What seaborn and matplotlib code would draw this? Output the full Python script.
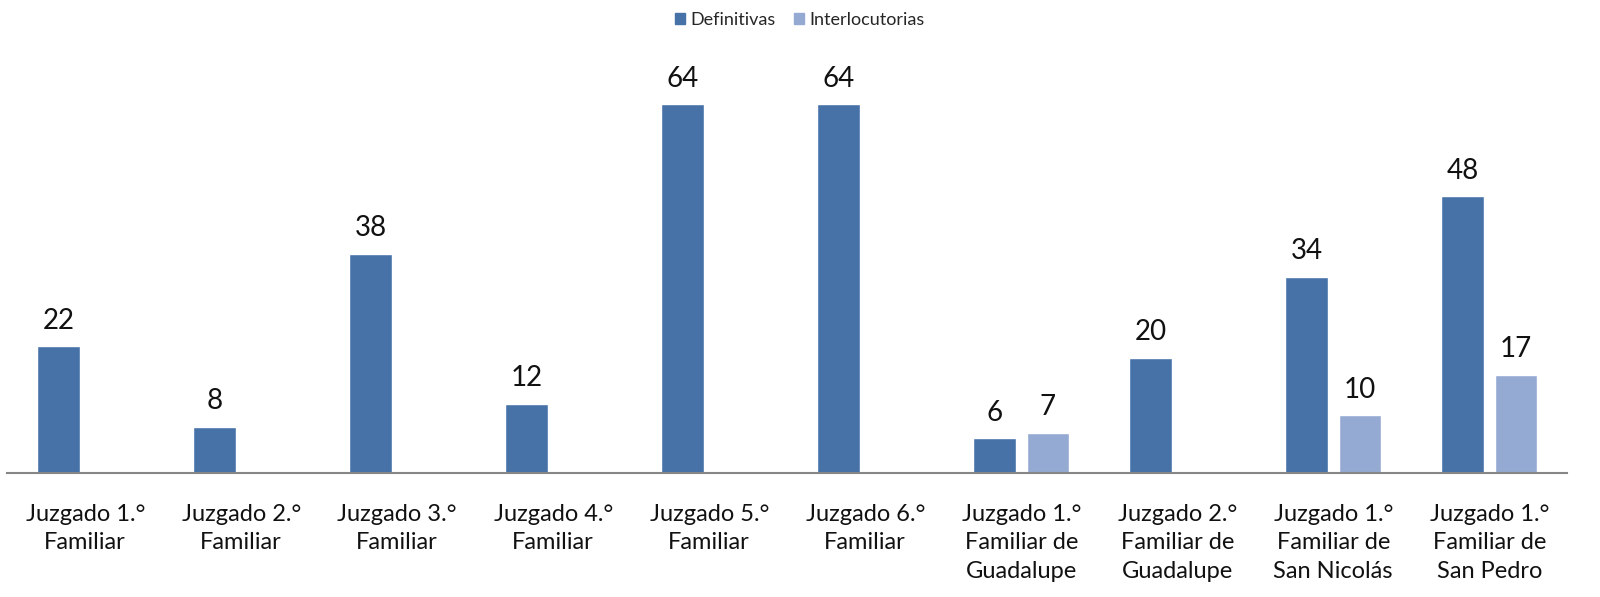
import seaborn as sns
import matplotlib.pyplot as plt
import pandas as pd

categories = [
    "Juzgado 1.°\nFamiliar",
    "Juzgado 2.°\nFamiliar",
    "Juzgado 3.°\nFamiliar",
    "Juzgado 4.°\nFamiliar",
    "Juzgado 5.°\nFamiliar",
    "Juzgado 6.°\nFamiliar",
    "Juzgado 1.°\nFamiliar de\nGuadalupe",
    "Juzgado 2.°\nFamiliar de\nGuadalupe",
    "Juzgado 1.°\nFamiliar de\nSan Nicolás",
    "Juzgado 1.°\nFamiliar de\nSan Pedro",
]
definitivas = [22, 8, 38, 12, 64, 64, 6, 20, 34, 48]
interlocutorias = [None, None, None, None, None, None, 7, None, 10, 17]
series = ["Definitivas", "Interlocutorias"]
colors = ["#4672A8", "#95AAD2"]

# missing values drawn as zero-height bars (no label)
df = pd.DataFrame({
    "Juzgado": categories * 2,
    "Tipo": [series[0]] * len(categories) + [series[1]] * len(categories),
    "Valor": definitivas + [0 if v is None else v for v in interlocutorias],
})

sns.set_style("white")
plt.rcParams["font.family"] = ["Lato", "DejaVu Sans"]

fig = plt.figure(figsize=(16, 5.97), dpi=100)
ax = fig.add_axes([0.0045, 0.2077, 0.975, 0.676])

sns.barplot(data=df, x="Juzgado", y="Valor", hue="Tipo", order=categories,
            hue_order=series, palette=colors, width=0.68, gap=0.2,
            saturation=1, ax=ax, legend=True)

for cont, vals in zip(ax.containers, [definitivas, interlocutorias]):
    labels = ["" if v is None else str(v) for v in vals]
    ax.bar_label(cont, labels=labels, padding=9, fontsize=20, color="#111111")

ax.set_ylim(0, 70)
ax.set_xlim(-0.5, len(categories) - 0.5)
ax.set_yticks([])
ax.set_xlabel("")
ax.set_ylabel("")
for s in ["top", "right", "left"]:
    ax.spines[s].set_visible(False)
ax.spines["bottom"].set_color("#868686")
ax.spines["bottom"].set_linewidth(1.5)
ax.tick_params(axis="x", length=0, pad=22, labelsize=17, labelcolor="#111111")
for t in ax.get_xticklabels():
    t.set_linespacing(1.45)
    t.set_verticalalignment("top")

ax.get_legend().remove()
handles = [plt.Rectangle((0, 0), 1, 1, color=c) for c in colors]
fig.legend(handles, series, loc="center", bbox_to_anchor=(0.5, 0.966), ncol=2,
           frameon=False, fontsize=13, handlelength=0.55, handleheight=0.55,
           handletextpad=0.3, columnspacing=1.0)

fig.savefig("out.png", dpi=100)
